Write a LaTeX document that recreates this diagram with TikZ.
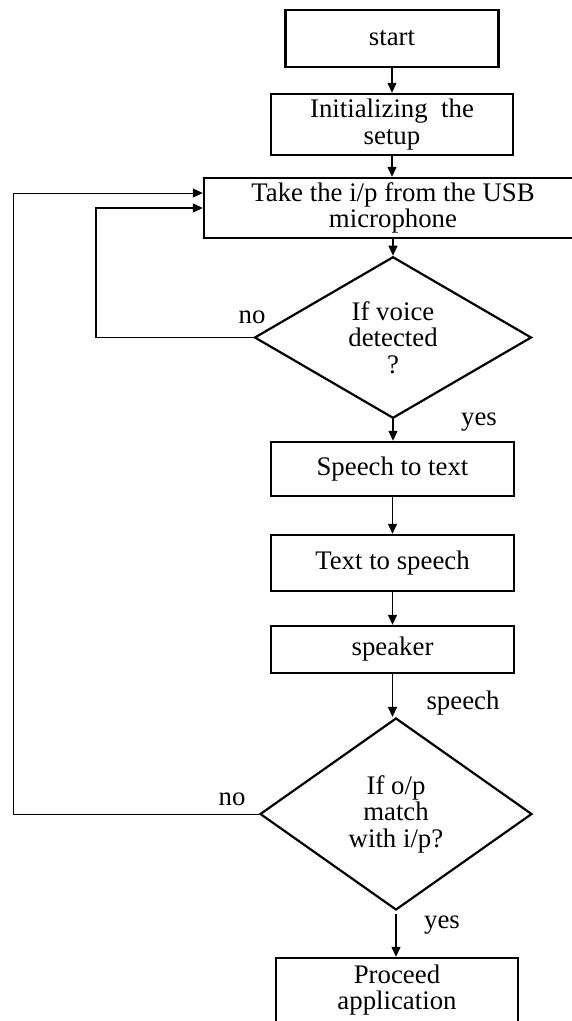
\documentclass[tikz,border=0pt]{standalone}
\usepackage{fontspec}
\setmainfont{Liberation Serif}
\usetikzlibrary{arrows.meta}
\usetikzlibrary{shapes.geometric}
\tikzstyle{box}=[draw=black, line width=2.4pt, inner sep=0pt, align=center]
\tikzstyle{decision}=[draw=black, line width=2.2pt, shape=diamond, inner sep=0pt, align=center]
\tikzstyle{flow}=[draw=black, line width=1.3pt, -{Triangle[length=10pt,width=9pt]}]
\tikzstyle{tag}=[inner sep=0pt, anchor=base]

\begin{document}
\begin{tikzpicture}[x=1pt, y=-1pt]
    \fontsize{26.8}{26.5}\selectfont
        \useasboundingbox (0,0) rectangle (571,1021);
        \node [box, minimum width=213pt, minimum height=57pt] (start) at (392,38.5) {start};
        \node [box, minimum width=242pt, minimum height=61pt] (init) at (392,124.5) {Initializing~ the\\setup};
        \node [box, minimum width=378pt, minimum height=60pt] (take) at (393,208) {Take the i/p from the USB\\microphone};
        \node [decision, minimum width=277pt, minimum height=161pt] (voice) at (393,337.5) {If voice\\detected\\?};
        \node [box, minimum width=243pt, minimum height=54pt] (stt) at (392.5,469) {Speech to text};
        \node [box, minimum width=243pt, minimum height=56pt] (tts) at (392.5,563) {Text to speech};
        \node [box, minimum width=243pt, minimum height=47pt] (speaker) at (392.5,649.5) {speaker};
        \node [decision, minimum width=272pt, minimum height=192pt] (match) at (396,814) {If o/p\\match\\with i/p?};
        \node [box, minimum width=242pt, minimum height=64pt] (proceed) at (397,990) {Proceed\\application};
        \node [tag] (novoice) at (252,323) {no};
        \node [tag] (yesvoice) at (479,425) {yes};
        \node [tag] (speech) at (463,709) {speech};
        \node [tag] (nomatch) at (232,805) {no};
        \node [tag] (yesmatch) at (442,928) {yes};
        \coordinate (inner) at (96,0);
        \coordinate (outer) at (13,193);
        \draw [flow] (start.south -| init.north) -- (init.north);
        \draw [flow] (init.south) -- (take.north -| init.south);
        \draw [flow] (take.south -| voice.north) -- (voice.north);
        \draw [flow] (voice.south) -- (voice.south |- stt.north);
        \draw [flow] (stt.south) -- (tts.north);
        \draw [flow] (tts.south) -- (speaker.north);
        \draw [flow] (speaker.south) -- (speaker.south |- match.north);
        \draw [flow] ([yshift=-3pt]match.south) -- (match.south |- proceed.north);
        \draw [flow] (voice.west) -| (inner |- take.west) -- (take.west);
        \draw [flow, line width=1pt] (match.west) -| (outer) -- (outer -| take.west);
    \end{tikzpicture}
\end{document}
